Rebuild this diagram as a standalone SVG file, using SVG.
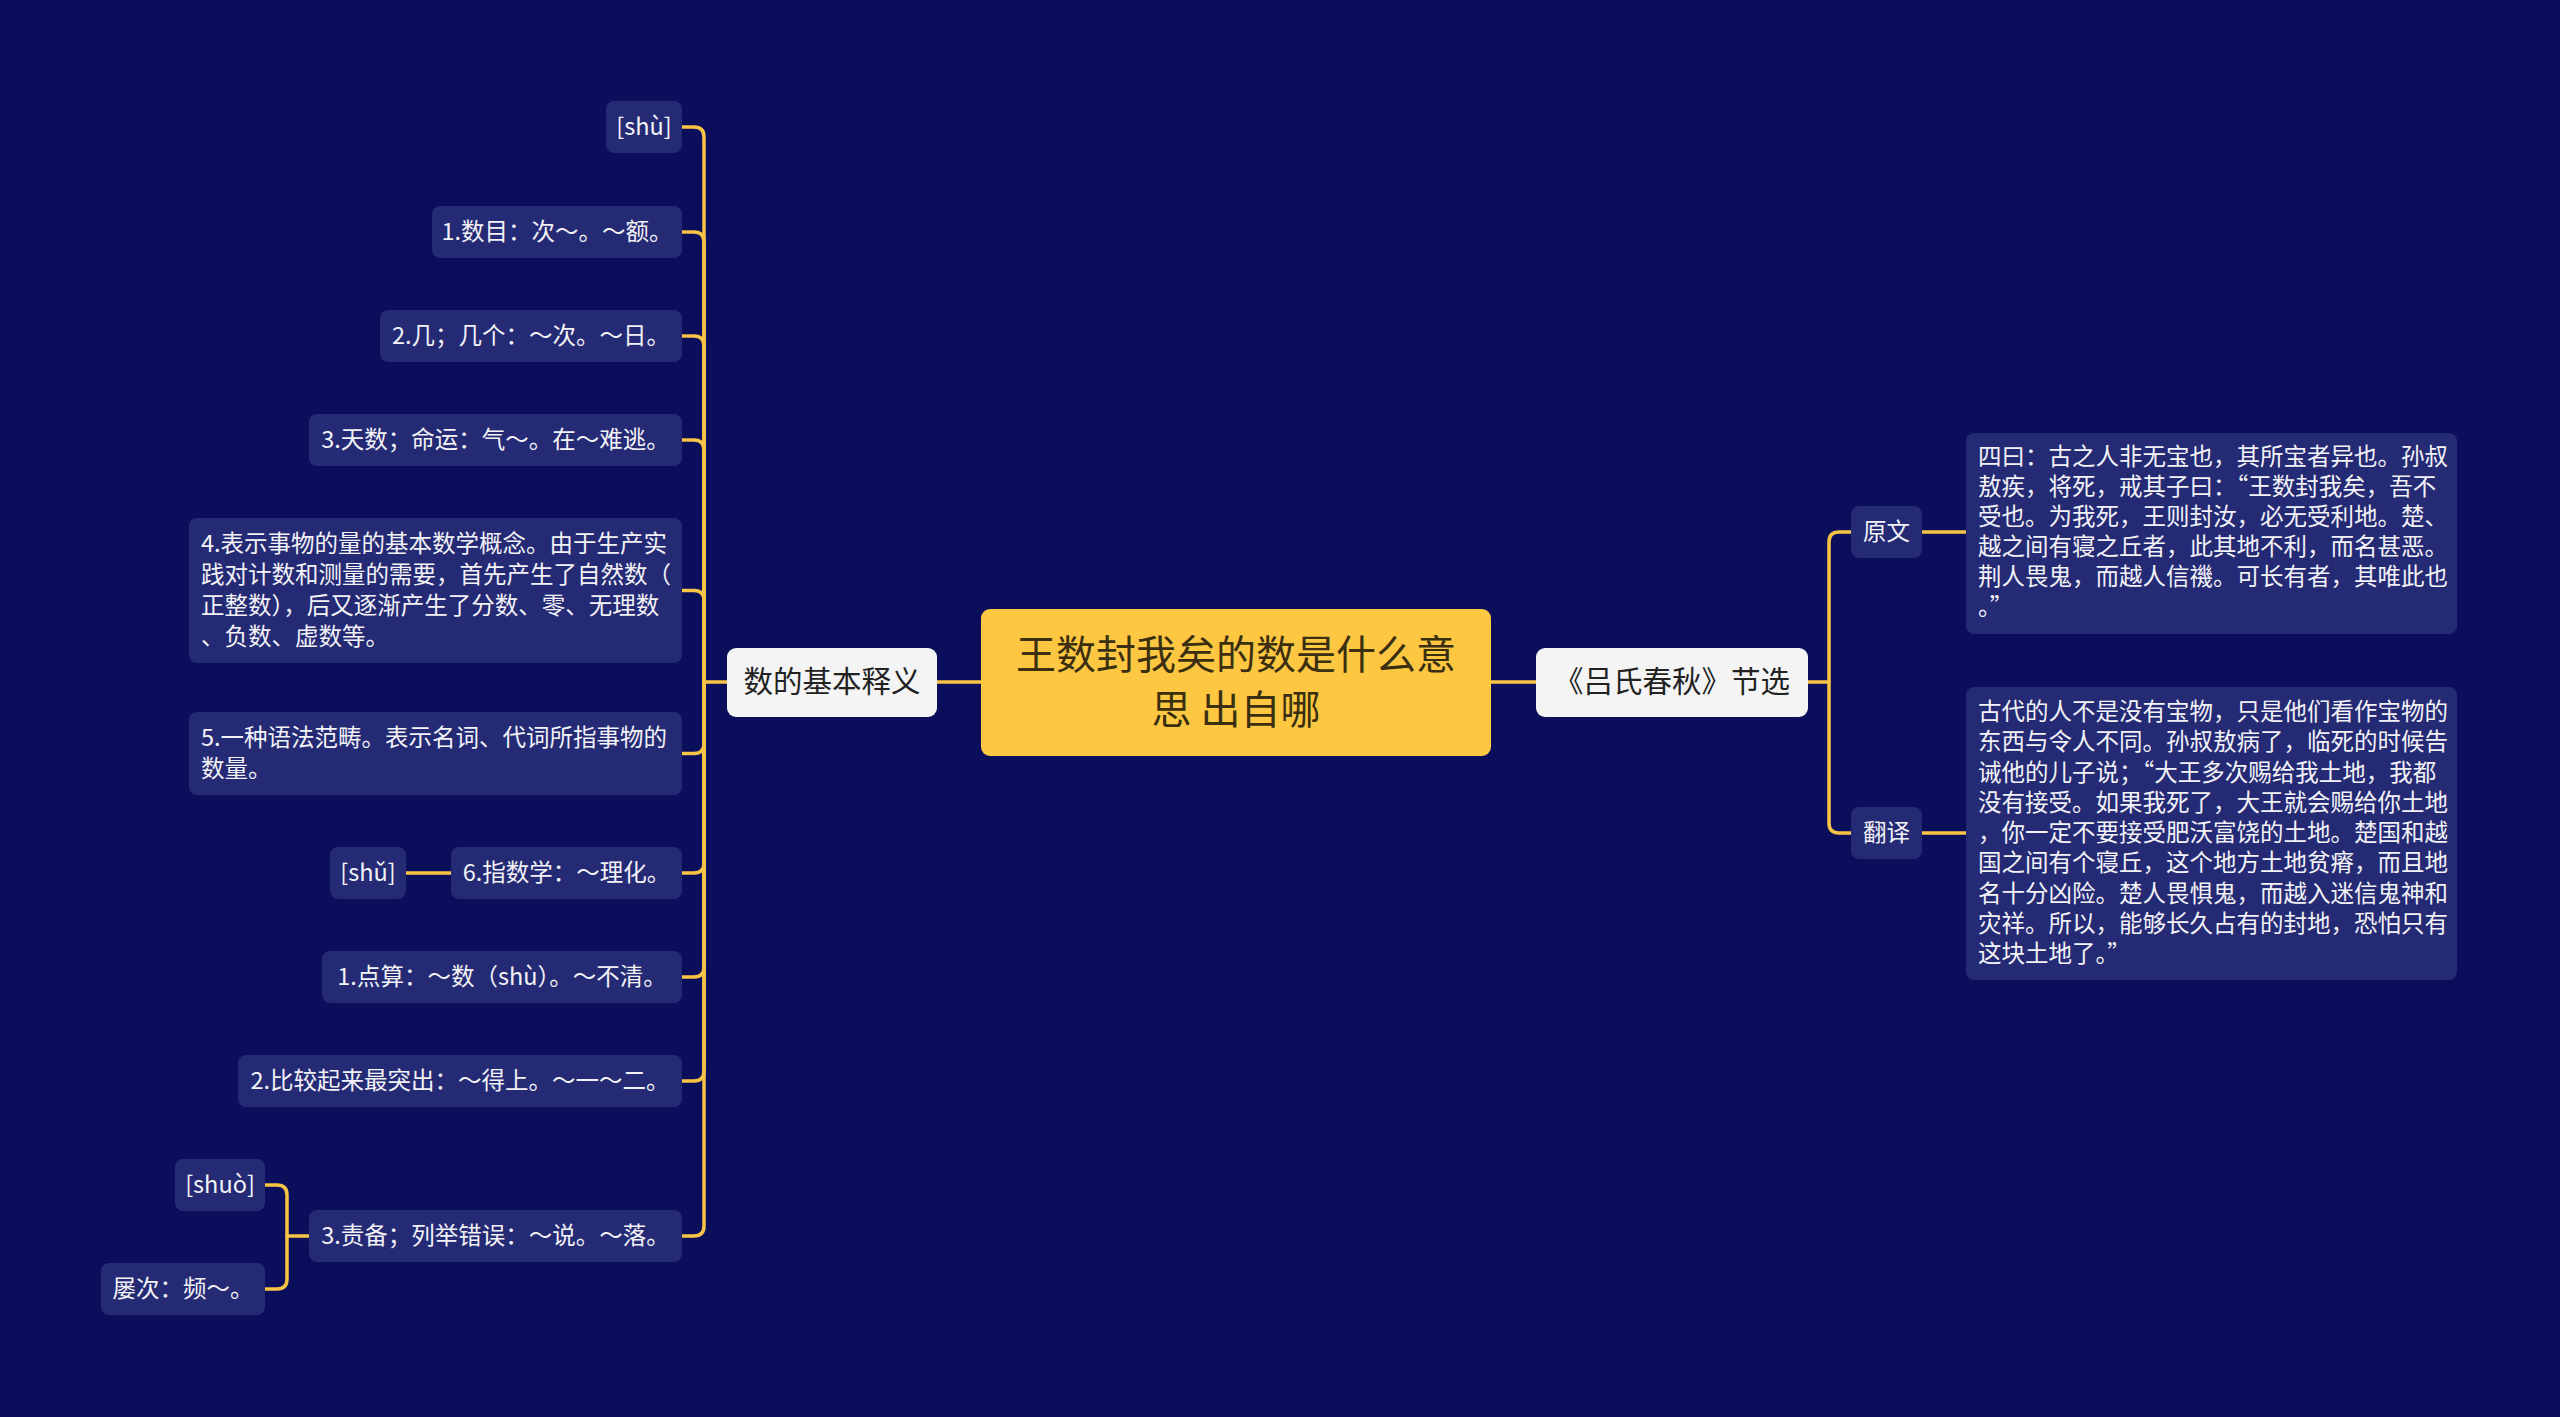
<svg xmlns="http://www.w3.org/2000/svg" width="2560" height="1417" viewBox="0 0 2560 1417">
<style>
.bg{fill:#0a0e5b}
.leaf{fill:#252a74}
.branch{fill:#f4f4f4}
.root{fill:#fec742}
.lt{font-family:"Noto Sans CJK SC","Noto Sans",sans-serif;font-size:23.5px;fill:#f2f2f7}
.lm{text-anchor:middle}
.bt{font-family:"Noto Sans CJK SC","Noto Sans",sans-serif;font-size:29.5px;fill:#222222;text-anchor:middle}
.rt{font-family:"Noto Sans CJK SC","Noto Sans",sans-serif;font-size:40px;fill:#3a2f10;text-anchor:middle}
.c{fill:none;stroke:#f7c446;stroke-width:3.5;stroke-linecap:round;stroke-linejoin:round}
</style>
<rect class="bg" x="0" y="0" width="2560" height="1417"/>

<g id="connectors">
  <path class="c" d="M937 682 H981"/>
  <path class="c" d="M1491 682 H1536"/>
  <!-- left bracket -->
  <path class="c" d="M727 682 H704 V137 Q704 127 694 127 H682"/>
  <path class="c" d="M704 682 V242 Q704 232 694 232 H682"/>
  <path class="c" d="M704 682 V346 Q704 336 694 336 H682"/>
  <path class="c" d="M704 682 V450 Q704 440 694 440 H682"/>
  <path class="c" d="M704 682 V600.5 Q704 590.5 694 590.5 H682"/>
  <path class="c" d="M704 682 V743.5 Q704 753.5 694 753.5 H682"/>
  <path class="c" d="M704 682 V863 Q704 873 694 873 H682"/>
  <path class="c" d="M704 682 V967 Q704 977 694 977 H682"/>
  <path class="c" d="M704 682 V1071 Q704 1081 694 1081 H682"/>
  <path class="c" d="M704 682 V1226 Q704 1236 694 1236 H682"/>
  <path class="c" d="M451 873 H406"/>
  <path class="c" d="M309 1236 H287 V1195 Q287 1185 277 1185 H265"/>
  <path class="c" d="M287 1236 V1279 Q287 1289 277 1289 H265"/>
  <!-- right bracket -->
  <path class="c" d="M1808 682 H1829 V542 Q1829 532 1839 532 H1851"/>
  <path class="c" d="M1829 682 V823 Q1829 833 1839 833 H1851"/>
  <path class="c" d="M1922 532 H1966"/>
  <path class="c" d="M1922 833 H1966"/>
</g>

<g id="root">
  <rect class="root" x="981" y="609" width="510" height="147" rx="9"/>
  <text class="rt" x="1236" y="669">王数封我矣的数是什么意</text>
  <text class="rt" x="1236" y="724">思 出自哪</text>
</g>

<g id="branch-left">
  <rect class="branch" x="727" y="648" width="210" height="69" rx="9"/>
  <text class="bt" x="832" y="692">数的基本释义</text>
</g>

<g id="branch-right">
  <rect class="branch" x="1536" y="648" width="272" height="69" rx="9"/>
  <text class="bt" x="1672" y="692">《吕氏春秋》节选</text>
</g>

<g id="n-shu4">
  <rect class="leaf" x="606" y="101" width="76" height="52" rx="8"/>
  <text class="lt lm" x="644" y="135">[shù]</text>
</g>
<g id="n-1">
  <rect class="leaf" x="432" y="206" width="250" height="52" rx="8"/>
  <text class="lt lm" x="557" y="240">1.数目：次～。～额。</text>
</g>
<g id="n-2">
  <rect class="leaf" x="380" y="310" width="302" height="52" rx="8"/>
  <text class="lt lm" x="531" y="344">2.几；几个：～次。～日。</text>
</g>
<g id="n-3">
  <rect class="leaf" x="309" y="414" width="373" height="52" rx="8"/>
  <text class="lt lm" x="495.5" y="448">3.天数；命运：气～。在～难逃。</text>
</g>
<g id="n-4">
  <rect class="leaf" x="189" y="518" width="493" height="145" rx="8"/>
  <text class="lt" x="201" y="552">4.表示事物的量的基本数学概念。由于生产实</text>
  <text class="lt" x="201" y="583">践对计数和测量的需要，首先产生了自然数（</text>
  <text class="lt" x="201" y="614">正整数），后又逐渐产生了分数、零、无理数</text>
  <text class="lt" x="201" y="645">、负数、虚数等。</text>
</g>
<g id="n-5">
  <rect class="leaf" x="189" y="712" width="493" height="83" rx="8"/>
  <text class="lt" x="201" y="746">5.一种语法范畴。表示名词、代词所指事物的</text>
  <text class="lt" x="201" y="777">数量。</text>
</g>
<g id="n-6">
  <rect class="leaf" x="451" y="847" width="231" height="52" rx="8"/>
  <text class="lt lm" x="566.5" y="881">6.指数学：～理化。</text>
</g>
<g id="n-shu3">
  <rect class="leaf" x="330" y="847" width="76" height="52" rx="8"/>
  <text class="lt lm" x="368" y="881">[shǔ]</text>
</g>
<g id="n-7">
  <rect class="leaf" x="322" y="951" width="360" height="52" rx="8"/>
  <text class="lt lm" x="502" y="985">1.点算：～数（shù）。～不清。</text>
</g>
<g id="n-8">
  <rect class="leaf" x="238" y="1055" width="444" height="52" rx="8"/>
  <text class="lt lm" x="460" y="1089">2.比较起来最突出：～得上。～一～二。</text>
</g>
<g id="n-9">
  <rect class="leaf" x="309" y="1210" width="373" height="52" rx="8"/>
  <text class="lt lm" x="495.5" y="1244">3.责备；列举错误：～说。～落。</text>
</g>
<g id="n-shuo4">
  <rect class="leaf" x="175" y="1159" width="90" height="52" rx="8"/>
  <text class="lt lm" x="220" y="1193">[shuò]</text>
</g>
<g id="n-lvci">
  <rect class="leaf" x="101" y="1263" width="164" height="52" rx="8"/>
  <text class="lt lm" x="183" y="1297">屡次：频～。</text>
</g>

<g id="n-yuanwen">
  <rect class="leaf" x="1851" y="506" width="71" height="52" rx="8"/>
  <text class="lt lm" x="1886.5" y="540">原文</text>
</g>
<g id="n-fanyi">
  <rect class="leaf" x="1851" y="807" width="71" height="52" rx="8"/>
  <text class="lt lm" x="1886.5" y="841">翻译</text>
</g>

<g id="n-original">
  <rect class="leaf" x="1966" y="433" width="491" height="201" rx="8"/>
  <text class="lt" x="1978" y="465">四曰：古之人非无宝也，其所宝者异也。孙叔</text>
  <text class="lt" x="1978" y="495">敖疾，将死，戒其子曰：“王数封我矣，吾不</text>
  <text class="lt" x="1978" y="525">受也。为我死，王则封汝，必无受利地。楚、</text>
  <text class="lt" x="1978" y="555">越之间有寝之丘者，此其地不利，而名甚恶。</text>
  <text class="lt" x="1978" y="585">荆人畏鬼，而越人信禨。可长有者，其唯此也</text>
  <text class="lt" x="1978" y="615">。”</text>
</g>

<g id="n-translation">
  <rect class="leaf" x="1966" y="687" width="491" height="293" rx="8"/>
  <text class="lt" x="1978" y="720">古代的人不是没有宝物，只是他们看作宝物的</text>
  <text class="lt" x="1978" y="750.25">东西与令人不同。孙叔敖病了，临死的时候告</text>
  <text class="lt" x="1978" y="780.5">诫他的儿子说；“大王多次赐给我土地，我都</text>
  <text class="lt" x="1978" y="810.75">没有接受。如果我死了，大王就会赐给你土地</text>
  <text class="lt" x="1978" y="841">，你一定不要接受肥沃富饶的土地。楚国和越</text>
  <text class="lt" x="1978" y="871.25">国之间有个寝丘，这个地方土地贫瘠，而且地</text>
  <text class="lt" x="1978" y="901.5">名十分凶险。楚人畏惧鬼，而越入迷信鬼神和</text>
  <text class="lt" x="1978" y="931.75">灾祥。所以，能够长久占有的封地，恐怕只有</text>
  <text class="lt" x="1978" y="962">这块土地了。”</text>
</g>
</svg>
